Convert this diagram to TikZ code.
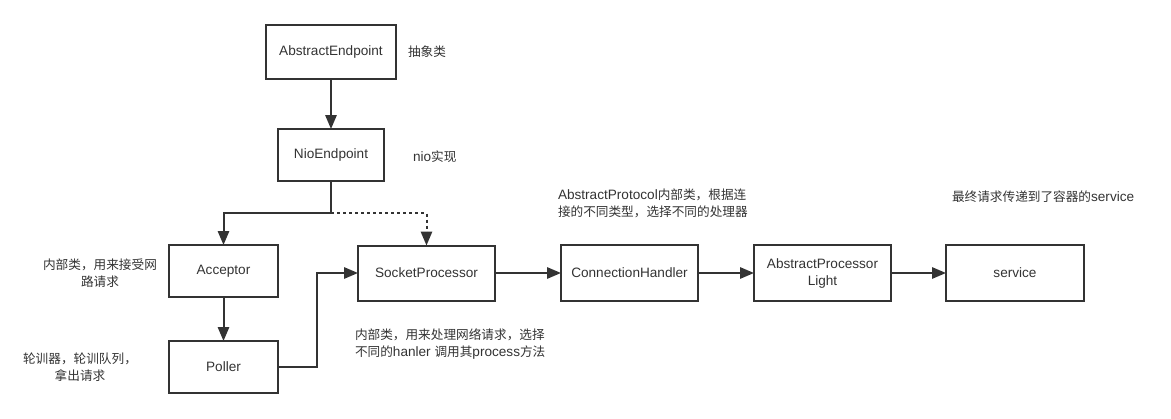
\documentclass[tikz,border=0pt]{standalone}
\usepackage{fontspec}
\setmainfont{Liberation Sans}
\newfontfamily\cjk[Scale=0.93]{Noto Sans CJK SC}
\newcommand{\zh}[1]{{\cjk #1}}
\usetikzlibrary{arrows.meta}
\definecolor{ink}{HTML}{333333}

\begin{document}
\begin{tikzpicture}[
  x=0.75pt, y=-0.75pt,
  font=\fontsize{10.2}{12.75}\selectfont,
  >={Triangle[length=10.5pt, width=8.5pt]},
  bx/.style={draw=ink, line width=1.5pt, text=ink, inner sep=2pt, outer sep=0pt,
             minimum width=#1*0.75pt, minimum height=55*0.75pt, align=center},
  nt/.style={text=ink, inner sep=0pt, outer sep=0pt},
  ln/.style={->, draw=ink, line width=1.5pt}]

\useasboundingbox (0,0) rectangle (1171,418);

% ===== endpoint (x=331) =====
\node[bx=130, minimum height=54*0.75pt] (ae)  at (331,52)  {AbstractEndpoint};
\node[bx=106, minimum height=52*0.75pt] (nio) at (331,155) {NioEndpoint};
\node[nt, anchor=west] (ael)  at (408,52)  {\zh{抽象类}};
\node[nt, anchor=west] (niol) at (413,157) {nio\zh{实现}};

% ===== acceptor + poller (x=223.5) =====
\node[bx=109, minimum height=52*0.75pt] (acc) at (223.5,271) {Acceptor};
\node[bx=109, minimum height=52*0.75pt] (pol) at (223.5,367) {Poller};
\node[nt, align=center] (accl) at (100,273)  {\zh{内部类，用来接受网}\\\zh{路请求}};
\node[nt, align=center] (poll) at (80,367.5) {\zh{轮训器，轮训队列，}\\\zh{拿出请求}};

% ===== processing chain (y=273) =====
\node[bx=137] (sp)  at (426.5,273) {SocketProcessor};
\node[bx=137, minimum height=56*0.75pt] (ch)  at (629.5,273) {ConnectionHandler};
\node[bx=137, minimum height=56*0.75pt] (apl) at (822.5,273) {AbstractProcessor\\Light};
\node[bx=138, minimum height=56*0.75pt] (svc) at (1015,273)  {service};
\node[nt, anchor=west, align=left] (spl) at (355,344)
  {\zh{内部类，用来处理网络请求，选择}\\\zh{不同的}hanler \zh{调用其}process\zh{方法}};
\node[nt, anchor=west, align=left] (chl) at (558,203)
  {AbstractProtocol\zh{内部类，根据连}\\\zh{接的不同类型，选择不同的处理器}};
\node[nt, anchor=west] (svcl) at (952,197) {\zh{最终请求传递到了容器的}service};

% ===== edges =====
\coordinate (fork) at (331,213);
\draw[ln] (ae) -- (nio);
\draw[ln] (nio) -- (fork) -| (acc);
\draw[ln, dash pattern=on 2.25pt off 2.25pt] (fork) -| (sp);
\draw[ln] (acc) -- (pol);
\draw[ln] (pol.east) -- ++(39,0) |- (sp.west);
\draw[ln] (sp) -- (ch);
\draw[ln] (ch) -- (apl);
\draw[ln] (apl) -- (svc);

\end{tikzpicture}
\end{document}
